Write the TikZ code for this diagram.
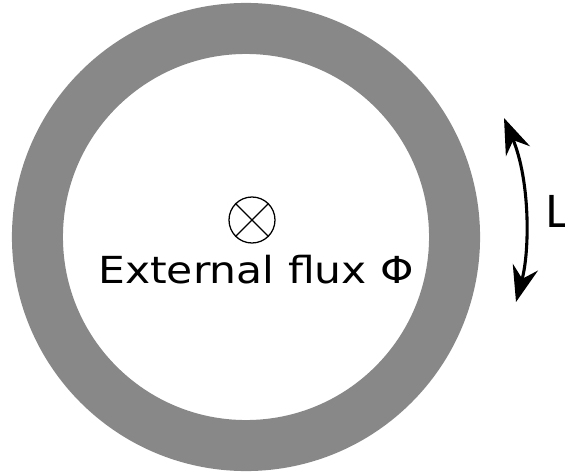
\documentclass[tikz,border=0pt]{standalone}
\usepackage{fontspec}
\setmainfont{DejaVu Sans}
\usetikzlibrary{arrows.meta}
\definecolor{ringgray}{HTML}{888888}

\begin{document}
\begin{tikzpicture}
  [x=0.025cm,y=-0.025cm,every node/.style={inner sep=0pt}]
  \useasboundingbox (0,0) rectangle (565,473);
  \node (ring) at (246,237) [circle,draw=ringgray,line width=1.275cm,minimum size=10.425cm] {};
  \node (flux) at (252,220) [circle,draw,line width=0.9pt,minimum size=1.15cm] {};
  \node (text) at (98,283) [anchor=base west] {\fontsize{26.5pt}{31pt}\selectfont\scalebox{1.14}[1]{External flux Φ}};
  \node (len) at (545,227) [anchor=base west] {\fontsize{31.3pt}{36pt}\selectfont L};
  \coordinate (ltop) at (504,118);
  \coordinate (lbot) at (516,302);

  \foreach \from/\to in {45/225,135/315}
    \draw[line width=0.9pt] (flux.\from) -- (flux.\to);

  \draw[line width=2.2pt,{Stealth[length=0.9cm,width=0.65cm,inset=0.3cm]}-{Stealth[length=0.9cm,width=0.65cm,inset=0.3cm]}]
    (ltop) .. controls (530,180) and (530,250) .. (lbot);

\end{tikzpicture}
\end{document}
